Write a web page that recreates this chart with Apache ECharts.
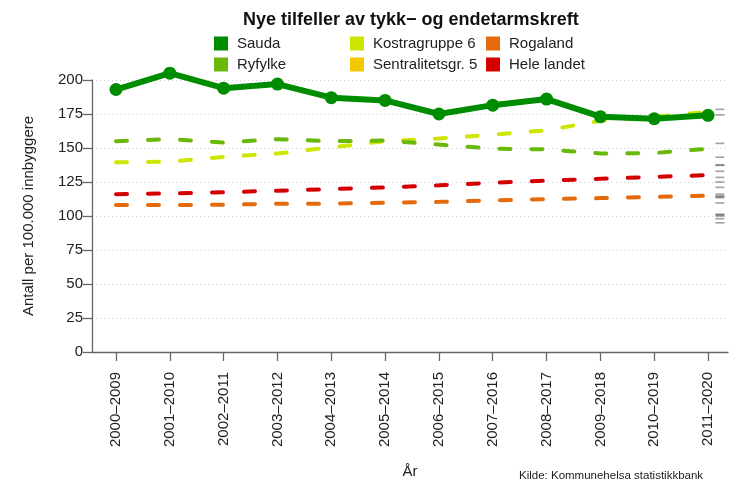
<!DOCTYPE html>
<html>
<head>
<meta charset="utf-8">
<script src="https://cdn.jsdelivr.net/npm/echarts@6/dist/echarts.min.js"></script>
<style>
  html, body { margin: 0; padding: 0; background: #fff; }
  #chart { width: 732px; height: 481px; }
</style>
</head>
<body>
<div id="chart"></div>
<script>
// periods on the x axis
const periods = ['2000–2009','2001–2010','2002–2011','2003–2012','2004–2013','2005–2014',
  '2006–2015','2007–2016','2008–2017','2009–2018','2010–2019','2011–2020']

// rates per 100 000
const sauda = [193, 205, 194, 197, 187, 185, 175, 181.5, 186, 173, 171.5, 174]
const ryfylke = [155, 156.5, 154, 156.5, 155, 155.5, 152.5, 149.5, 149, 146, 146.3, 149.5]
const kostragruppe6 = [139.5, 140, 143.5, 146, 150.5, 155, 157, 159.8, 163, 170, 173, 176.5]
const sentralitet5 = []
const rogaland = [108, 108, 108.3, 109, 109, 109.8, 110.4, 111.4, 112.4, 113.2, 114, 115]
const heleLandet = [116, 116.6, 117.5, 118.6, 119.8, 121, 122.6, 124.4, 126, 127.4, 128.8, 130]

// values of the other municipalities, shown as a rug at the right edge
const rugValues = [178.4, 174.3, 153.4, 143.2, 137.7, 137.2, 132.9, 128.4, 125, 121.1,
  116, 114.7, 114.2, 113.5, 109.6, 101.3, 100.8, 100, 98, 95]
const rugPos = 11.22

const yTicks = [0, 25, 50, 75, 100, 125, 150, 175, 200]

const font = "'Liberation Sans', Arial, sans-serif"

function pts(arr) {
  return arr.map((v, i) => [i, v])
}

function dashed(name, data, color) {
  return {
    name: name, type: 'line', data: pts(data), clip: false,
    symbol: 'none', silent: true,
    lineStyle: { color: color, width: 4, type: [11, 21], cap: 'round' },
    itemStyle: { color: color }
  }
}

let chart = echarts.init(document.getElementById('chart'))
let legendCommon = {
  orient: 'vertical', top: 31, itemWidth: 14, itemHeight: 14, itemGap: 6,
  icon: 'rect', selectedMode: false,
  textStyle: { fontFamily: font, fontSize: 15, color: '#222', padding: [0, 0, 0, 4] }
}
chart.setOption({
  animation: false,
  title: [
    { text: 'Nye tilfeller av tykk− og endetarmskreft', left: 238, top: 6,
      textStyle: { fontFamily: font, fontSize: 18, fontWeight: 'bold', color: '#111' } },
    { text: 'Kilde: Kommunehelsa statistikkbank', left: 514, top: 465,
      textStyle: { fontFamily: font, fontSize: 11.5, fontWeight: 'normal', color: '#222' } }
  ],
  legend: [
    Object.assign({ left: 209, data: ['Sauda', 'Ryfylke'] }, legendCommon),
    Object.assign({ left: 345, data: ['Kostragruppe 6', 'Sentralitetsgr. 5'] }, legendCommon),
    Object.assign({ left: 481, data: ['Rogaland', 'Hele landet'] }, legendCommon)
  ],
  grid: { left: 92, right: 4, top: 80, bottom: 129, containLabel: false, outerBoundsMode: 'none' },
  xAxis: {
    type: 'value', min: -0.446, max: 11.371,
    name: 'År', nameLocation: 'middle', nameGap: 112,
    nameTextStyle: { fontFamily: font, fontSize: 15, color: '#222' },
    axisLine: { show: true, onZero: false, lineStyle: { color: '#666', width: 1.3 } },
    axisTick: { show: true, length: 9, customValues: periods.map((p, i) => i),
      lineStyle: { color: '#666', width: 1.3 } },
    axisLabel: { customValues: periods.map((p, i) => i), rotate: 90, margin: 20,
      fontFamily: font, fontSize: 15, color: '#222',
      formatter: v => periods[Math.round(v)] },
    splitLine: { show: false }
  },
  yAxis: {
    type: 'value', min: 0, max: 200, interval: 25,
    name: 'Antall per 100.000 innbyggere', nameLocation: 'middle', nameGap: 56,
    nameTextStyle: { fontFamily: font, fontSize: 15, color: '#222' },
    axisLine: { show: true, onZero: false, lineStyle: { color: '#666', width: 1.3 } },
    axisTick: { show: true, length: 9, lineStyle: { color: '#666', width: 1.3 } },
    axisLabel: { margin: 9, fontFamily: font, fontSize: 15, color: '#222',
      formatter: v => yTicks.indexOf(v) >= 0 ? String(v) : '' },
    splitLine: { show: true, lineStyle: { color: '#cfcfcf', type: [1, 3], width: 1 } }
  },
  series: [
    dashed('Hele landet', heleLandet, '#d40000'),
    dashed('Rogaland', rogaland, '#e56a0c'),
    dashed('Sentralitetsgr. 5', sentralitet5, '#f3c800'),
    dashed('Kostragruppe 6', kostragruppe6, '#cce600'),
    dashed('Ryfylke', ryfylke, '#6ab90a'),
    {
      name: 'Sauda', type: 'line', data: pts(sauda), clip: false, z: 5,
      symbol: 'circle', symbolSize: 13, silent: true,
      lineStyle: { color: '#008c00', width: 6 },
      itemStyle: { color: '#008c00' }
    },
    {
      name: 'rug', type: 'scatter', silent: true, z: 1,
      data: rugValues.map(v => [rugPos, v]),
      symbol: 'rect', symbolSize: [9, 1.6],
      itemStyle: { color: '#555', opacity: 0.55 }
    }
  ]
})
</script>
</body>
</html>
